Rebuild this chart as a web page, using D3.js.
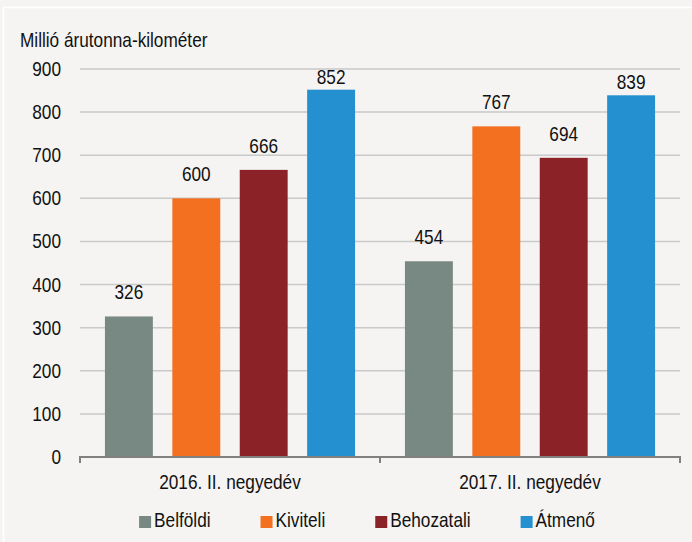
<!DOCTYPE html>
<html>
<head>
<meta charset="utf-8">
<script src="https://cdn.jsdelivr.net/npm/d3@7"></script>
<style>
  html, body { margin: 0; padding: 0; background: #f5f4f2; }
  svg text { font-family: "Liberation Sans", Arial, sans-serif; fill: #111; }
</style>
</head>
<body>
<div id="chart"></div>
<script>
// data
var categories = ["2016. II. negyedév", "2017. II. negyedév"];
var seriesNames = ["Belföldi", "Kiviteli", "Behozatali", "Átmenő"];
var belfoldi = [326, 454];
var kiviteli = [600, 767];
var behozatali = [666, 694];
var atmeno = [852, 839];
var yTicks = [0, 100, 200, 300, 400, 500, 600, 700, 800, 900];
var yTitle = "Millió árutonna-kilométer";

var colors = ["#788882", "#f37021", "#8b2227", "#2490d0"];

var svgWidth = 692;
var svgHeight = 542;

var margin = { top: 69, right: 12, bottom: 85, left: 80 };
var width = svgWidth - margin.left - margin.right;
var height = svgHeight - margin.top - margin.bottom;

var svg = d3.select("#chart")
  .append("svg")
  .attr("width", svgWidth)
  .attr("height", svgHeight);

svg.append("rect")
  .attr("width", svgWidth)
  .attr("height", svgHeight)
  .attr("fill", "#f5f4f2");

// thin white frame lines
svg.append("line").attr("x1", 3).attr("x2", svgWidth).attr("y1", 7.5).attr("y2", 7.5)
  .attr("stroke", "#fff").attr("stroke-width", 1.5);
svg.append("line").attr("x1", 3.5).attr("x2", 3.5).attr("y1", 7).attr("y2", svgHeight)
  .attr("stroke", "#fff").attr("stroke-width", 1.5);

var chartGroup = svg.append("g")
  .attr("transform", `translate(${margin.left}, ${margin.top})`);

// scaled text helper (narrow-ish look)
var sx = 0.82;
function addText(g, x, y, str, anchor, size) {
  return g.append("text")
    .attr("transform", `translate(${x}, ${y}) scale(${sx}, 1)`)
    .attr("text-anchor", anchor || "start")
    .style("font-size", (size || 21) + "px")
    .text(str);
}

var table = categories.map(function(c, i) {
  return {
    cat: c,
    values: [belfoldi[i], kiviteli[i], behozatali[i], atmeno[i]]
  };
});

var x0 = d3.scaleBand()
  .domain(categories)
  .range([0, width])
  .padding(0);

var x1 = d3.scaleBand()
  .domain(seriesNames)
  .range([0, x0.bandwidth()])
  .paddingInner(0.289)
  .paddingOuter(0.37);

var y = d3.scaleLinear()
  .domain([0, 900])
  .range([height, 0]);

// gridlines
chartGroup.append("g")
  .selectAll("line")
  .data(yTicks.filter(d => d > 0))
  .join("line")
  .attr("x1", 0)
  .attr("x2", width)
  .attr("y1", d => y(d))
  .attr("y2", d => y(d))
  .attr("stroke", "#c9c9c9")
  .attr("stroke-width", 1.5);

// y tick labels
yTicks.forEach(function(t) {
  addText(chartGroup, -19, y(t) + 7, t, "end");
});

// bars
var groups = chartGroup.selectAll(".grp")
  .data(table)
  .join("g")
  .attr("class", "grp")
  .attr("transform", d => `translate(${x0(d.cat)}, 0)`);

groups.selectAll("rect")
  .data(d => d.values.map((v, i) => ({ name: seriesNames[i], value: v, idx: i })))
  .join("rect")
  .attr("x", d => x1(d.name))
  .attr("y", d => y(d.value))
  .attr("width", x1.bandwidth())
  .attr("height", d => height - y(d.value))
  .attr("fill", d => colors[d.idx]);

// value labels
groups.each(function(g) {
  var grp = d3.select(this);
  g.values.forEach(function(v, i) {
    var gap = v > 800 ? 6 : 17;
    addText(grp, x1(seriesNames[i]) + x1.bandwidth() / 2, y(v) - gap, v, "middle");
  });
});

// x axis line and ticks
var axisG = chartGroup.append("g").attr("transform", `translate(0, ${height})`);
axisG.append("line")
  .attr("x1", 0).attr("x2", width)
  .attr("stroke", "#808080").attr("stroke-width", 2);
axisG.selectAll(".tk")
  .data([0, x0.bandwidth(), width])
  .join("line")
  .attr("class", "tk")
  .attr("x1", d => d).attr("x2", d => d)
  .attr("y1", -1).attr("y2", 6)
  .attr("stroke", "#808080").attr("stroke-width", 2);

// category labels
categories.forEach(function(c) {
  addText(chartGroup, x0(c) + x0.bandwidth() / 2, height + 32, c, "middle");
});

// axis title
addText(svg, 20, 47, yTitle, "start");

// legend
var legend = svg.append("g");
var lx = 0;
seriesNames.forEach(function(name, i) {
  legend.append("rect")
    .attr("x", lx).attr("y", -11)
    .attr("width", 12).attr("height", 12)
    .attr("fill", colors[i]);
  var t = addText(legend, lx + 15, 0, name, "start");
  var w = t.node().getComputedTextLength() * sx;
  lx += 15 + w + (i < seriesNames.length - 1 ? 50 : 0);
});
legend.attr("transform", `translate(${367 - lx / 2}, 527)`);
</script>
</body>
</html>
